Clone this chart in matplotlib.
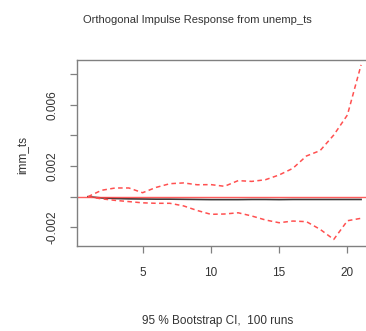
import matplotlib
matplotlib.use("Agg")
import matplotlib.pyplot as plt

plt.rcParams['font.family'] = ['Liberation Sans', 'DejaVu Sans']

# ---- data ----
steps = list(range(1, 22))
irf = [0, -0.00008, -0.00012, -0.00014, -0.00015, -0.00016, -0.00016,
       -0.00017, -0.00018, -0.00019, -0.00019, -0.00019, -0.00018,
       -0.00018, -0.00019, -0.00018, -0.00018, -0.00018, -0.00018,
       -0.00018, -0.00018]
upper = [0, 0.00042, 0.00057, 0.00057, 0.00026, 0.00061, 0.00085,
         0.00090, 0.00078, 0.00079, 0.00068, 0.00105, 0.00100, 0.00111,
         0.00142, 0.00185, 0.00266, 0.00301, 0.00403, 0.00534, 0.00861]
lower = [0, -0.00014, -0.00024, -0.00032, -0.00040, -0.00043, -0.00043,
         -0.00060, -0.00090, -0.00115, -0.00113, -0.00105, -0.00126,
         -0.00152, -0.00170, -0.00159, -0.00163, -0.00213, -0.00279,
         -0.00157, -0.00141]
xticks = [5, 10, 15, 20]
yticks = [-0.002, 0, 0.002, 0.004, 0.006, 0.008]
ytick_labels = ["-0.002", "", "0.002", "", "0.006", ""]

W, H = 366, 331
fig = plt.figure(figsize=(W / 100, H / 100), dpi=100)
# plot region runs past the right edge like the cropped original
ax = fig.add_axes([77 / W, 85 / H, 295 / W, 186 / H])

frame = '#808080'
ax.plot(steps, irf, color='#3a3a3a', lw=1.2)
ax.axhline(0, color='#ff4040', lw=1.0, alpha=0.85)
ax.plot(steps, upper, color='#ff5050', lw=1.1, dashes=(3, 2.2))
ax.plot(steps, lower, color='#ff5050', lw=1.1, dashes=(3, 2.2))

ax.set_xlim(0.2, 21.8)
ax.set_ylim(-0.00322, 0.00893)
ax.set_xticks(xticks)
ax.set_xticklabels([str(t) for t in xticks], fontsize=8.5, color='#333333')
ax.set_yticks(yticks)
ax.set_yticklabels(ytick_labels, fontsize=8.5, color='#333333',
                   rotation=90, va='center')
ax.tick_params(axis='both', direction='out', length=5, width=0.9,
               color=frame)
ax.tick_params(axis='x', pad=10)
ax.tick_params(axis='y', pad=8)
for s in ax.spines.values():
    s.set_color(frame)
    s.set_linewidth(1.0)

fig.text(197 / W, 1 - 20 / H, "Orthogonal Impulse Response from unemp_ts",
         ha='center', va='center', fontsize=8, color='#333333')
fig.text(22 / W, 1 - 155 / H, "imm_ts", rotation=90, ha='center',
         va='center', fontsize=8.5, color='#333333')
fig.text(218 / W, 1 - 321 / H, "95 % Bootstrap CI,  100 runs",
         ha='center', va='center', fontsize=8.5, color='#333333')

fig.savefig("out.png", dpi=100)
